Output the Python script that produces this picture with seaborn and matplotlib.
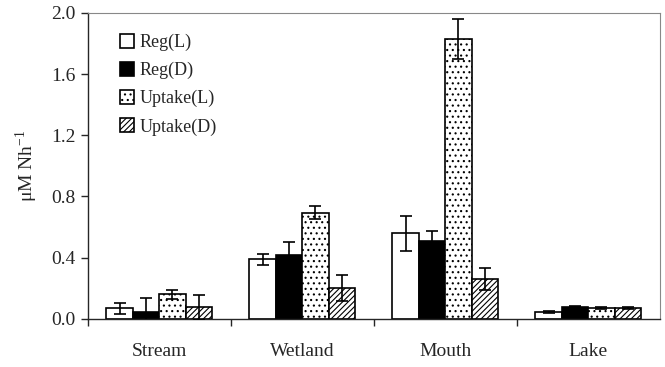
import matplotlib
matplotlib.use("Agg")
import matplotlib.pyplot as plt
import seaborn as sns
import pandas as pd
from matplotlib.ticker import FixedLocator, FormatStrFormatter

# values (uM N per hour)
sites = ["Stream", "Wetland", "Mouth", "Lake"]
series = ["Reg(L)", "Reg(D)", "Uptake(L)", "Uptake(D)"]

reg_l = [0.07, 0.39, 0.56, 0.045]
reg_d = [0.045, 0.42, 0.51, 0.08]
uptake_l = [0.16, 0.695, 1.83, 0.07]
uptake_d = [0.075, 0.20, 0.26, 0.07]

reg_l_err = [0.035, 0.035, 0.115, 0.005]
reg_d_err = [0.09, 0.08, 0.065, 0.005]
uptake_l_err = [0.03, 0.045, 0.13, 0.005]
uptake_d_err = [0.08, 0.085, 0.07, 0.005]

colors = ["white", "black", "white", "white"]
hatches = ["", "", "...", "//////"]

sns.set_style("ticks")
plt.rcParams["font.family"] = ["Liberation Serif", "DejaVu Serif"]
plt.rcParams["mathtext.fontset"] = "custom"
plt.rcParams["mathtext.rm"] = "Liberation Serif"
plt.rcParams["hatch.color"] = "black"
plt.rcParams["hatch.linewidth"] = 0.8

values = [reg_l, reg_d, uptake_l, uptake_d]
errors = [reg_l_err, reg_d_err, uptake_l_err, uptake_d_err]

rows = []
for name, vals in zip(series, values):
    for site, v in zip(sites, vals):
        rows.append({"site": site, "series": name, "value": v})
df = pd.DataFrame(rows)

fig = plt.figure(figsize=(6.65, 3.67), dpi=100)
ax = fig.add_axes([0.132, 0.131, 0.860, 0.834])

sns.barplot(
    data=df,
    x="site",
    y="value",
    hue="series",
    order=sites,
    hue_order=series,
    palette=colors,
    edgecolor="black",
    linewidth=1.2,
    width=0.74,
    gap=0,
    errorbar=None,
    legend=False,
    ax=ax
)

for container, hatch, errs in zip(ax.containers, hatches, errors):
    xs = []
    for bar in container:
        bar.set_hatch(hatch)
        xs.append(bar.get_x() + bar.get_width() / 2)
    ax.errorbar(
        xs,
        container.datavalues,
        yerr=errs,
        fmt="none",
        ecolor="black",
        elinewidth=1.2,
        capsize=4,
        capthick=1.2,
        zorder=5
    )

ax.set_ylim(0, 2.0)
ax.set_xlim(-0.5, 3.5)
ax.set_yticks([0.0, 0.4, 0.8, 1.2, 1.6, 2.0])
ax.yaxis.set_major_formatter(FormatStrFormatter("%.1f"))
ax.tick_params(axis="y", labelsize=14, length=5, width=1, direction="out")
ax.xaxis.set_minor_locator(FixedLocator([-0.5, 0.5, 1.5, 2.5]))
ax.tick_params(axis="x", which="major", length=0, labelsize=14, pad=17)
ax.tick_params(axis="x", which="minor", length=5, width=1, direction="out")

ax.set_xlabel("")
ax.set_ylabel(r"μM Nh$^{-1}$", fontsize=14, labelpad=8)

for side in ["top", "right"]:
    ax.spines[side].set_visible(True)
    ax.spines[side].set_color("#888888")
    ax.spines[side].set_linewidth(0.8)
ax.spines["left"].set_linewidth(1.0)
ax.spines["bottom"].set_linewidth(1.0)

ax.legend(
    handles=ax.containers,
    labels=series,
    loc="upper left",
    bbox_to_anchor=(0.043, 0.955),
    frameon=False,
    fontsize=13,
    handlelength=0.8,
    handleheight=0.8,
    handletextpad=0.3,
    labelspacing=0.6,
    borderaxespad=0
)

fig.savefig("out.png", dpi=100)
plt.close(fig)
